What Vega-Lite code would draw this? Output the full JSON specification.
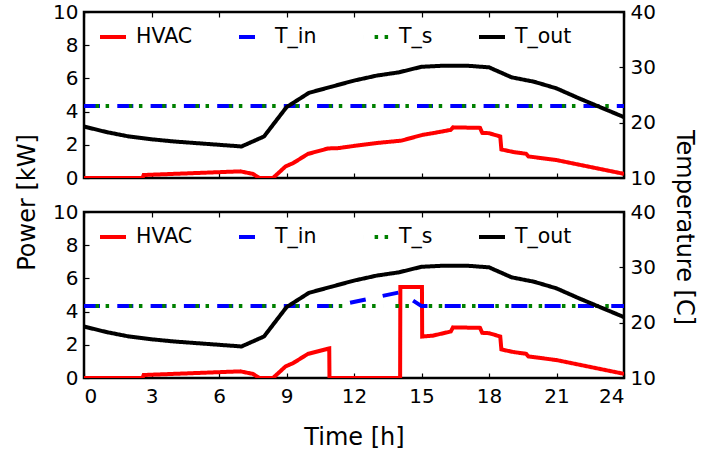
{
  "$schema": "https://vega.github.io/schema/vega-lite/v6.json",
  "background": "white",
  "padding": {"left": 14, "top": 0, "right": 5, "bottom": 2},
  "config": {
    "font": "DejaVu Sans",
    "view": {"stroke": "black", "strokeWidth": 2.5},
    "axis": {"grid": false, "domain": false, "tickColor": "black", "tickWidth": 1.2, "tickSize": -5, "labelFont": "DejaVu Sans", "labelFontSize": 20, "labelColor": "black", "titleFont": "DejaVu Sans", "titleFontSize": 24, "titleFontWeight": "normal", "titleColor": "black"},
    "legend": {"orient": "none", "legendX": 14, "legendY": 10, "direction": "horizontal", "columns": 4, "gridAlign": "none", "symbolType": "stroke", "symbolStrokeWidth": 4, "symbolSize": 676, "labelFont": "DejaVu Sans", "labelFontSize": 20.5, "labelColor": "black", "labelOffset": 8, "columnPadding": 38, "padding": 0, "title": null}
  },
  "datasets": {
    "top_power": [
      {"t": 0, "p": 0, "series": "HVAC"}, {"t": 2.6, "p": 0, "series": "HVAC"}, {"t": 2.65, "p": 0.18, "series": "HVAC"}, {"t": 6.95, "p": 0.4, "series": "HVAC"}, {"t": 7.5, "p": 0.25, "series": "HVAC"}, {"t": 7.8, "p": 0, "series": "HVAC"}, {"t": 8.4, "p": 0, "series": "HVAC"}, {"t": 8.96, "p": 0.7, "series": "HVAC"}, {"t": 9.3, "p": 0.9, "series": "HVAC"}, {"t": 9.95, "p": 1.45, "series": "HVAC"}, {"t": 10.85, "p": 1.78, "series": "HVAC"}, {"t": 11.3, "p": 1.8, "series": "HVAC"}, {"t": 12.1, "p": 1.95, "series": "HVAC"}, {"t": 13.1, "p": 2.12, "series": "HVAC"}, {"t": 14.1, "p": 2.25, "series": "HVAC"}, {"t": 15.05, "p": 2.6, "series": "HVAC"}, {"t": 15.5, "p": 2.7, "series": "HVAC"}, {"t": 16.3, "p": 2.9, "series": "HVAC"}, {"t": 16.4, "p": 3.05, "series": "HVAC"}, {"t": 17.6, "p": 3.02, "series": "HVAC"}, {"t": 17.7, "p": 2.72, "series": "HVAC"}, {"t": 18.0, "p": 2.7, "series": "HVAC"}, {"t": 18.5, "p": 2.5, "series": "HVAC"}, {"t": 18.55, "p": 1.72, "series": "HVAC"}, {"t": 19.1, "p": 1.56, "series": "HVAC"}, {"t": 19.65, "p": 1.46, "series": "HVAC"}, {"t": 19.75, "p": 1.3, "series": "HVAC"}, {"t": 21.0, "p": 1.08, "series": "HVAC"}, {"t": 24.0, "p": 0.25, "series": "HVAC"}
    ],
    "bottom_power": [
      {"t": 0, "p": 0, "series": "HVAC"}, {"t": 2.6, "p": 0, "series": "HVAC"}, {"t": 2.65, "p": 0.18, "series": "HVAC"}, {"t": 6.95, "p": 0.4, "series": "HVAC"}, {"t": 7.5, "p": 0.25, "series": "HVAC"}, {"t": 7.8, "p": 0, "series": "HVAC"}, {"t": 8.4, "p": 0, "series": "HVAC"}, {"t": 8.96, "p": 0.7, "series": "HVAC"}, {"t": 9.3, "p": 0.9, "series": "HVAC"}, {"t": 9.95, "p": 1.45, "series": "HVAC"}, {"t": 10.9, "p": 1.78, "series": "HVAC"}, {"t": 10.91, "p": 0, "series": "HVAC"}, {"t": 14.05, "p": 0, "series": "HVAC"}, {"t": 14.06, "p": 5.48, "series": "HVAC"}, {"t": 15.02, "p": 5.48, "series": "HVAC"}, {"t": 15.03, "p": 2.5, "series": "HVAC"}, {"t": 15.5, "p": 2.55, "series": "HVAC"}, {"t": 16.3, "p": 2.8, "series": "HVAC"}, {"t": 16.4, "p": 3.05, "series": "HVAC"}, {"t": 17.6, "p": 3.02, "series": "HVAC"}, {"t": 17.7, "p": 2.72, "series": "HVAC"}, {"t": 18.0, "p": 2.7, "series": "HVAC"}, {"t": 18.5, "p": 2.5, "series": "HVAC"}, {"t": 18.55, "p": 1.72, "series": "HVAC"}, {"t": 19.1, "p": 1.56, "series": "HVAC"}, {"t": 19.65, "p": 1.46, "series": "HVAC"}, {"t": 19.75, "p": 1.3, "series": "HVAC"}, {"t": 21.0, "p": 1.08, "series": "HVAC"}, {"t": 24.0, "p": 0.25, "series": "HVAC"}
    ],
    "top_temp": [
      {"t": 0, "temp": 23, "series": "T_in"}, {"t": 24, "temp": 23, "series": "T_in"},
      {"t": 0, "temp": 23, "series": "T_s"}, {"t": 24, "temp": 23, "series": "T_s"},
      {"t": 0, "temp": 19.3, "series": "T_out"}, {"t": 1, "temp": 18.3, "series": "T_out"}, {"t": 2, "temp": 17.5, "series": "T_out"}, {"t": 3, "temp": 17.0, "series": "T_out"}, {"t": 4, "temp": 16.6, "series": "T_out"}, {"t": 5, "temp": 16.3, "series": "T_out"}, {"t": 6, "temp": 16.0, "series": "T_out"}, {"t": 7, "temp": 15.7, "series": "T_out"}, {"t": 8, "temp": 17.5, "series": "T_out"}, {"t": 9, "temp": 22.8, "series": "T_out"}, {"t": 10, "temp": 25.4, "series": "T_out"}, {"t": 11, "temp": 26.5, "series": "T_out"}, {"t": 12, "temp": 27.6, "series": "T_out"}, {"t": 13, "temp": 28.5, "series": "T_out"}, {"t": 14, "temp": 29.1, "series": "T_out"}, {"t": 15, "temp": 30.1, "series": "T_out"}, {"t": 16, "temp": 30.3, "series": "T_out"}, {"t": 17, "temp": 30.3, "series": "T_out"}, {"t": 18, "temp": 30.0, "series": "T_out"}, {"t": 19, "temp": 28.2, "series": "T_out"}, {"t": 20, "temp": 27.4, "series": "T_out"}, {"t": 21, "temp": 26.2, "series": "T_out"}, {"t": 22, "temp": 24.4, "series": "T_out"}, {"t": 23, "temp": 22.7, "series": "T_out"}, {"t": 24, "temp": 21.0, "series": "T_out"}
    ],
    "bottom_temp": [
      {"t": 0, "temp": 23, "series": "T_in"}, {"t": 11.1, "temp": 23, "series": "T_in"}, {"t": 14.06, "temp": 25.5, "series": "T_in"}, {"t": 15.0, "temp": 23, "series": "T_in"}, {"t": 24, "temp": 23, "series": "T_in"},
      {"t": 0, "temp": 23, "series": "T_s"}, {"t": 24, "temp": 23, "series": "T_s"},
      {"t": 0, "temp": 19.3, "series": "T_out"}, {"t": 1, "temp": 18.3, "series": "T_out"}, {"t": 2, "temp": 17.5, "series": "T_out"}, {"t": 3, "temp": 17.0, "series": "T_out"}, {"t": 4, "temp": 16.6, "series": "T_out"}, {"t": 5, "temp": 16.3, "series": "T_out"}, {"t": 6, "temp": 16.0, "series": "T_out"}, {"t": 7, "temp": 15.7, "series": "T_out"}, {"t": 8, "temp": 17.5, "series": "T_out"}, {"t": 9, "temp": 22.8, "series": "T_out"}, {"t": 10, "temp": 25.4, "series": "T_out"}, {"t": 11, "temp": 26.5, "series": "T_out"}, {"t": 12, "temp": 27.6, "series": "T_out"}, {"t": 13, "temp": 28.5, "series": "T_out"}, {"t": 14, "temp": 29.1, "series": "T_out"}, {"t": 15, "temp": 30.1, "series": "T_out"}, {"t": 16, "temp": 30.3, "series": "T_out"}, {"t": 17, "temp": 30.3, "series": "T_out"}, {"t": 18, "temp": 30.0, "series": "T_out"}, {"t": 19, "temp": 28.2, "series": "T_out"}, {"t": 20, "temp": 27.4, "series": "T_out"}, {"t": 21, "temp": 26.2, "series": "T_out"}, {"t": 22, "temp": 24.4, "series": "T_out"}, {"t": 23, "temp": 22.7, "series": "T_out"}, {"t": 24, "temp": 21.0, "series": "T_out"}
    ]
  },
  "vconcat": [
    {
      "width": 540, "height": 166,
      "layer": [
        {
          "data": {"name": "top_power"},
          "mark": {"type": "line", "strokeWidth": 4, "clip": true},
          "encoding": {
            "x": {"field": "t", "type": "quantitative", "scale": {"domain": [0, 24], "nice": false, "zero": false}, "axis": {"orient": "bottom", "values": [0,3,6,9,12,15,18,21,24], "labels": false, "title": null}},
            "y": {"field": "p", "type": "quantitative", "scale": {"domain": [0, 10], "nice": false}, "axis": {"orient": "left", "values": [0,2,4,6,8,10], "labelPadding": 11, "title": "Power [kW]", "titlePadding": 13, "titleY": 190}},
            "color": {"field": "series", "type": "nominal", "scale": {"domain": ["HVAC", "T_in", "T_s", "T_out"], "range": ["#ff0000", "#0000ff", "#008000", "#000000"]}, "legend": {"title": null}},
            "strokeDash": {"field": "series", "type": "nominal", "scale": {"domain": ["HVAC", "T_in", "T_s", "T_out"], "range": [[1, 0], [16, 17.3], [0.01, 11.6, 3.5, 6.5, 3.5, 8.2], [1, 0]]}, "legend": {"title": null}}
          }
        },
        {
          "data": {"name": "top_temp"},
          "mark": {"type": "line", "strokeWidth": 4, "clip": true},
          "encoding": {
            "x": {"field": "t", "type": "quantitative", "scale": {"domain": [0, 24], "nice": false, "zero": false}, "axis": {"orient": "top", "values": [0,3,6,9,12,15,18,21,24], "labels": false, "title": null}},
            "y": {"field": "temp", "type": "quantitative", "scale": {"domain": [10, 40], "nice": false, "zero": false}, "axis": {"orient": "right", "values": [10,20,30,40], "labelPadding": 11, "title": "Temperature [C]", "titlePadding": 16, "titleY": 215}},
            "color": {"field": "series", "type": "nominal", "scale": {"domain": ["HVAC", "T_in", "T_s", "T_out"], "range": ["#ff0000", "#0000ff", "#008000", "#000000"]}, "legend": {"title": null}},
            "strokeDash": {"field": "series", "type": "nominal", "scale": {"domain": ["HVAC", "T_in", "T_s", "T_out"], "range": [[1, 0], [16, 17.3], [0.01, 11.6, 3.5, 6.5, 3.5, 8.2], [1, 0]]}, "legend": {"title": null}}
          }
        }
      ],
      "resolve": {"scale": {"y": "independent"}, "axis": {"x": "independent", "y": "independent"}}
    },
    {
      "width": 540, "height": 166,
      "layer": [
        {
          "data": {"name": "bottom_power"},
          "mark": {"type": "line", "strokeWidth": 4, "clip": true},
          "encoding": {
            "x": {"field": "t", "type": "quantitative", "scale": {"domain": [0, 24], "nice": false, "zero": false}, "axis": {"orient": "bottom", "values": [0,3,6,9,12,15,18,21,24], "labelPadding": 13, "title": "Time [h]", "titlePadding": 19}},
            "y": {"field": "p", "type": "quantitative", "scale": {"domain": [0, 10], "nice": false}, "axis": {"orient": "left", "values": [0,2,4,6,8,10], "labelPadding": 11, "title": null}},
            "color": {"field": "series", "type": "nominal", "scale": {"domain": ["HVAC", "T_in", "T_s", "T_out"], "range": ["#ff0000", "#0000ff", "#008000", "#000000"]}, "legend": {"title": null}},
            "strokeDash": {"field": "series", "type": "nominal", "scale": {"domain": ["HVAC", "T_in", "T_s", "T_out"], "range": [[1, 0], [16, 17.3], [0.01, 11.6, 3.5, 6.5, 3.5, 8.2], [1, 0]]}, "legend": {"title": null}}
          }
        },
        {
          "data": {"name": "bottom_temp"},
          "mark": {"type": "line", "strokeWidth": 4, "clip": true},
          "encoding": {
            "x": {"field": "t", "type": "quantitative", "scale": {"domain": [0, 24], "nice": false, "zero": false}, "axis": {"orient": "top", "values": [0,3,6,9,12,15,18,21,24], "labels": false, "title": null}},
            "y": {"field": "temp", "type": "quantitative", "scale": {"domain": [10, 40], "nice": false, "zero": false}, "axis": {"orient": "right", "values": [10,20,30,40], "labelPadding": 11, "title": null}},
            "color": {"field": "series", "type": "nominal", "scale": {"domain": ["HVAC", "T_in", "T_s", "T_out"], "range": ["#ff0000", "#0000ff", "#008000", "#000000"]}, "legend": {"title": null}},
            "strokeDash": {"field": "series", "type": "nominal", "scale": {"domain": ["HVAC", "T_in", "T_s", "T_out"], "range": [[1, 0], [16, 17.3], [0.01, 11.6, 3.5, 6.5, 3.5, 8.2], [1, 0]]}, "legend": {"title": null}}
          }
        }
      ],
      "resolve": {"scale": {"y": "independent"}, "axis": {"x": "independent", "y": "independent"}}
    }
  ],
  "spacing": 34,
  "bounds": "flush",
  "resolve": {"scale": {"color": "independent", "strokeDash": "independent", "x": "independent"}}
}
